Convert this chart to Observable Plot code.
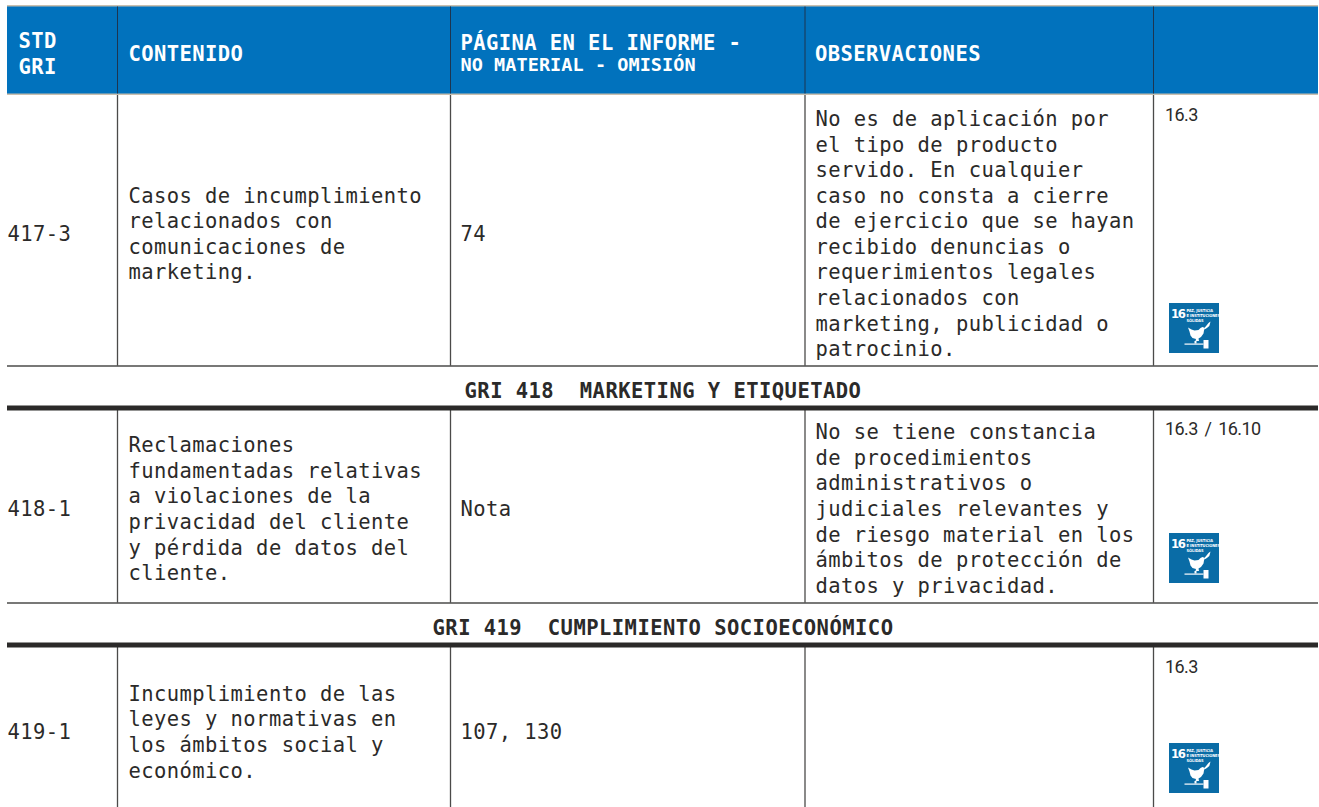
<!DOCTYPE html>
<html><head><meta charset="utf-8">
<script src="https://cdn.jsdelivr.net/npm/d3@7"></script>
<script src="https://cdn.jsdelivr.net/npm/@observablehq/plot@0.6"></script>
<style>
html,body{margin:0;padding:0;background:#fff;overflow:hidden}
svg{display:block}
</style></head><body>
<div id="chart"></div>
<script>
const mono = "DejaVu Sans Mono";
const condensed = "DejaVu Sans Condensed, Liberation Sans";
const blue = "#0172bd", ink = "#2b2a29", iconBlue = "#0a6ca6";

// Table grid
const columnEdges = [117, 450, 804.5, 1153];
const rowEdges = [365.5, 602.5];
const heavyEdges = [407.5, 644.5];

const headers = [
  {t: "STD", x: 18, y: 41},
  {t: "GRI", x: 18, y: 67},
  {t: "CONTENIDO", x: 128, y: 54},
  {t: "PÁGINA EN EL INFORME -", x: 460, y: 43},
  {t: "OBSERVACIONES", x: 814.5, y: 54}
];
const subHeaders = [{t: "NO MATERIAL - OMISIÓN", x: 460, y: 65}];

const sections = [
  {t: "GRI 418  MARKETING Y ETIQUETADO", x: 662.5, y: 391},
  {t: "GRI 419  CUMPLIMIENTO SOCIOECONÓMICO", x: 662.5, y: 628}
];

const codes = [
  {t: "417-3", x: 7, y: 234},
  {t: "418-1", x: 7, y: 509},
  {t: "419-1", x: 7, y: 732}
];
const pages = [
  {t: "74", x: 460, y: 234},
  {t: "Nota", x: 460, y: 509},
  {t: "107, 130", x: 460, y: 732}
];
const contents = [
  {lines: ["Casos de incumplimiento","relacionados con","comunicaciones de","marketing."], x: 128, y: [196,221,247,272]},
  {lines: ["Reclamaciones","fundamentadas relativas","a violaciones de la","privacidad del cliente","y pérdida de datos del","cliente."], x: 128, y: [445,471,496,522,548,573]},
  {lines: ["Incumplimiento de las","leyes y normativas en","los ámbitos social y","económico."], x: 128, y: [694,719,745,771]}
];
const observations = [
  {lines: ["No es de aplicación por","el tipo de producto","servido. En cualquier","caso no consta a cierre","de ejercicio que se hayan","recibido denuncias o","requerimientos legales","relacionados con","marketing, publicidad o","patrocinio."], x: 815, y: [119,145,170,196,221,247,272,298,324,349]},
  {lines: ["No se tiene constancia","de procedimientos","administrativos o","judiciales relevantes y","de riesgo material en los","ámbitos de protección de","datos y privacidad."], x: 815, y: [432,458,483,509,535,560,586]}
];
const odsLabels = [
  {t: "16.3", x: 1164.5, y: 115},
  {t: "16.3 / 16.10", x: 1164.5, y: 429},
  {t: "16.3", x: 1164.5, y: 667}
];
const iconOrigins = [{x: 1169, y: 303}, {x: 1169, y: 533}, {x: 1169, y: 743}];

// Icon artwork, in icon-local units
const doveShape = [[18.5,24],[22,26],[25,27],[29,26.5],[31,24.5],[33,23.5],[35.5,24.5],[34.5,27],[34,30],[31.5,33.5],[29,35],[29.5,37.5],[26,37.5],[26.5,35.5],[23,34.5],[21,32],[20,28]];
const hammerShape = [[34,36.5],[39,36.5],[39,45],[34,45]];
const handleShape = [[15,40],[34,40],[34,41.2],[15,41.2]];
const stemShape = [[25,37.5],[27,37.5],[27,40],[25,40]];
const branchShape = [[34.5,25],[37,22],[39,19.5],[41,18],[40.5,20],[39.8,22.5],[38,24],[36,25.5]];
const shapes = [doveShape, hammerShape, handleShape, stemShape, branchShape];

const flat = list => list.flatMap(r => r.lines.map((t, i) => ({t, x: r.x, y: r.y[i]})));
const bodyRows = [...codes, ...pages, ...flat(contents), ...flat(observations)];
const iconParts = iconOrigins.flatMap((o, i) => shapes.flatMap((s, j) => s.map(([px, py]) => ({x: o.x + px, y: o.y + py, id: i + "-" + j}))));
const iconSmall = iconOrigins.flatMap(o => [
  {t: "PAZ, JUSTICIA", x: o.x + 17, y: o.y + 7},
  {t: "E INSTITUCIONES", x: o.x + 17, y: o.y + 12},
  {t: "SÓLIDAS", x: o.x + 17, y: o.y + 17.5}
]);
const iconNum = iconOrigins.map(o => ({t: "16", x: o.x + 8.3, y: o.y + 10}));

// Spacing for each text mark, in drawing order
const textSpacing = [
  ["letter-spacing", ".42px"], ["letter-spacing", ".06px"], ["letter-spacing", ".46px"], ["letter-spacing", ".42px"],
  ["letter-spacing", "-.6px", "word-spacing", "3px"], ["letter-spacing", "-1.4px"], ["letter-spacing", "-.1px"]
];

const textOpts = {x: "x", y: "y", text: "t", textAnchor: "start", lineAnchor: "middle"};
const chart = Plot.plot({
  width: 1319, height: 807,
  margin: 0,
  x: {domain: [0, 1319], range: [0, 1319], axis: null},
  y: {domain: [0, 807], range: [0, 807], axis: null},
  style: {background: "#fff"},
  marks: [
    Plot.ruleX(columnEdges, {y1: 94, y2: 365.5, stroke: ink, strokeWidth: 1.3, strokeOpacity: .85}),
    Plot.ruleX(columnEdges, {y1: 409, y2: 602.5, stroke: ink, strokeWidth: 1.3, strokeOpacity: .85}),
    Plot.ruleX(columnEdges, {y1: 646, y2: 807, stroke: ink, strokeWidth: 1.3, strokeOpacity: .85}),
    Plot.rect([{}], {x1: 7, x2: 1318, y1: 5, y2: 95, fill: "#c9bfae"}),
    Plot.rect([{}], {x1: 7, x2: 1318, y1: 6.5, y2: 93.5, fill: blue}),
    Plot.ruleX(columnEdges, {y1: 6.5, y2: 93.5, stroke: "#1d3550", strokeWidth: 1}),
    Plot.ruleY(rowEdges, {x1: 7, x2: 1318, stroke: ink, strokeWidth: 1.3, strokeOpacity: .85}),
    Plot.ruleY(heavyEdges, {x1: 7, x2: 1318, stroke: ink, strokeWidth: 5}),
    Plot.text(headers, {...textOpts, fill: "#fff", fontFamily: mono, fontWeight: 700, fontSize: 20.5}),
    Plot.text(subHeaders, {...textOpts, fill: "#fff", fontFamily: mono, fontWeight: 700, fontSize: 18.5}),
    Plot.text(sections, {...textOpts, textAnchor: "middle", fill: ink, fontFamily: mono, fontWeight: 700, fontSize: 20.5}),
    Plot.text(bodyRows, {...textOpts, fill: ink, fontFamily: mono, fontSize: 20.5}),
    Plot.text(odsLabels, {...textOpts, fill: ink, fontFamily: "Roboto", fontWeight: 400, fontSize: 18}),
    Plot.rect(iconOrigins, {x1: "x", x2: d => d.x + 50, y1: "y", y2: d => d.y + 50, fill: iconBlue}),
    Plot.line(iconParts, {x: "x", y: "y", z: "id", fill: "#fff", stroke: "none", curve: "linear-closed"}),
    Plot.text(iconNum, {...textOpts, textAnchor: "middle", fill: "#fff", fontFamily: condensed, fontWeight: 700, fontSize: 13}),
    Plot.text(iconSmall, {...textOpts, fill: "#fff", fontFamily: condensed, fontWeight: 700, fontSize: 4})
  ]
});
chart.querySelectorAll('g[aria-label="text"]').forEach((g, i) => {
  const s = textSpacing[i] || [];
  for (let k = 0; k < s.length; k += 2) g.style.setProperty(s[k], s[k + 1]);
});
document.getElementById("chart").append(chart);
</script>
</body></html>
